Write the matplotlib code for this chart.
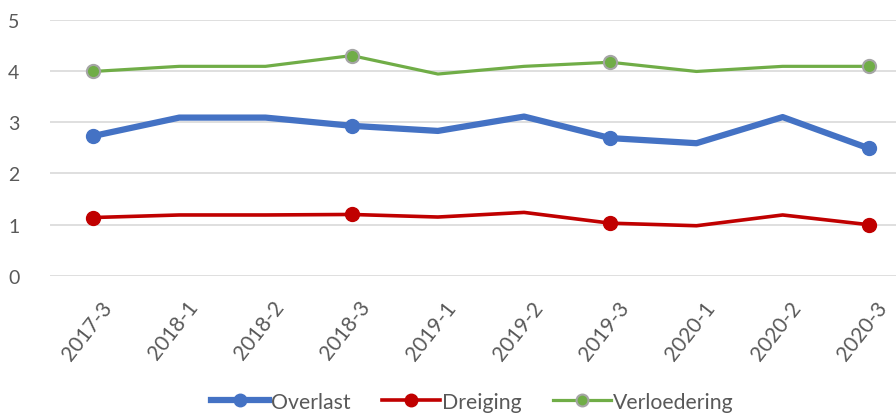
import matplotlib
matplotlib.use("Agg")
from matplotlib import pyplot as plt
from matplotlib.transforms import ScaledTranslation
import numpy as np

periods = ["2017-3", "2018-1", "2018-2", "2018-3", "2019-1",
           "2019-2", "2019-3", "2020-1", "2020-2", "2020-3"]
overlast = [2.73, 3.09, 3.09, 2.93, 2.83, 3.11, 2.69, 2.59, 3.10, 2.49]
dreiging = [1.14, 1.19, 1.19, 1.20, 1.15, 1.24, 1.03, 0.98, 1.19, 1.00]
verloedering = [3.99, 4.09, 4.09, 4.30, 3.94, 4.09, 4.17, 3.99, 4.09, 4.09]
marker_idx = [0, 3, 6, 9]

plt.rcParams["font.family"] = ["Lato", "DejaVu Sans"]
txt = "#595959"

fig = plt.figure(figsize=(8.96, 4.14), dpi=100)
ax = fig.add_axes([0.0558, 0.331, 0.962, 0.619])
x = np.arange(len(periods))

ax.plot(x, overlast, color="#4472C4", lw=4.5, marker="o", ms=10,
        markevery=marker_idx, solid_joinstyle="round", label="Overlast", zorder=3)
ax.plot(x, dreiging, color="#C00000", lw=2.6, marker="o", ms=10,
        markevery=marker_idx, solid_joinstyle="round", label="Dreiging", zorder=3)
ax.plot(x, verloedering, color="#70AD47", lw=2.3, marker="o", ms=9.5,
        markeredgecolor="#A5A5A5", markeredgewidth=1.5,
        markevery=marker_idx, solid_joinstyle="round", label="Verloedering", zorder=3)

ax.set_xlim(-0.5, len(periods) - 0.5)
ax.set_ylim(0, 5)
ax.set_yticks(range(6))
ax.grid(axis="y", color="#D9D9D9", lw=1.2)
ax.set_axisbelow(True)
for s in ax.spines.values():
    s.set_visible(False)
ax.tick_params(length=0)
ax.tick_params(axis="y", labelsize=14, labelcolor=txt, pad=22)
ax.set_xticks(x)
ax.set_xticklabels(periods, rotation=52, ha="right", va="top", rotation_mode="anchor",
                   fontsize=15, color=txt)
ax.tick_params(axis="x", pad=0)
off = ScaledTranslation(0.07, -0.21, fig.dpi_scale_trans)
for lab in ax.get_xticklabels():
    lab.set_transform(lab.get_transform() + off)

leg = fig.legend(loc="center", bbox_to_anchor=(0.527, 0.027), ncol=3, frameon=False,
                 fontsize=15.3, handlelength=2.75, columnspacing=1.45, handletextpad=0.1,
                 markerscale=0.9, borderaxespad=0)
for t in leg.get_texts():
    t.set_color(txt)

fig.savefig("out.png", dpi=100)
